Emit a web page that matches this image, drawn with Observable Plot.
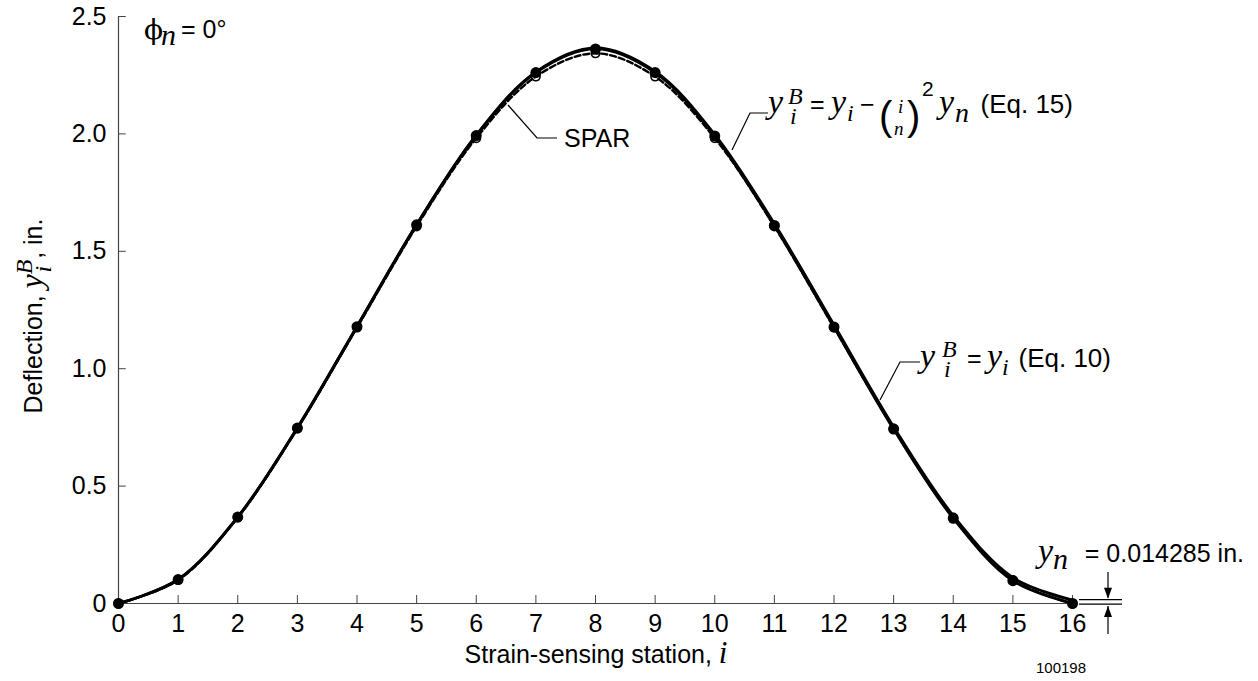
<!DOCTYPE html>
<html><head><meta charset="utf-8">
<script src="https://cdn.jsdelivr.net/npm/d3@7"></script>
<script src="https://cdn.jsdelivr.net/npm/@observablehq/plot@0.6"></script>
<style>body{margin:0;background:#fff} svg{display:block}</style>
</head><body><div id="chart"></div>
<script>
// ---- data ----
const stations = [0,1,2,3,4,5,6,7,8,9,10,11,12,13,14,15,16];
// y_i^B = y_i (Eq. 10)
const eq10 = [0, 0.102, 0.368, 0.748, 1.180, 1.614, 1.995, 2.264, 2.366, 2.266, 1.997, 1.617, 1.186, 0.752, 0.374, 0.110, 0.0143];
// y_i^B = y_i - (i/n)^2 y_n (Eq. 15)
const eq15 = [0, 0.102, 0.368, 0.747, 1.179, 1.613, 1.993, 2.261, 2.362, 2.261, 1.991, 1.610, 1.178, 0.743, 0.363, 0.097, 0];
// SPAR
const spar = [0, 0.100, 0.366, 0.745, 1.175, 1.606, 1.982, 2.244, 2.343, 2.244, 1.982, 1.606, 1.175, 0.745, 0.366, 0.100, 0];
const xTicks = [0,1,2,3,4,5,6,7,8,9,10,11,12,13,14,15,16];
const yTicks = [0, 0.5, 1, 1.5, 2, 2.5];
const yTickLabels = ["0", "0.5", "1.0", "1.5", "2.0", "2.5"];
const yn = 0.014285;

const rows = s => stations.map((st, k) => ({i: st, y: s[k]}));
const SANS = "'Liberation Sans', Arial, Helvetica, sans-serif";
const SERIF = "'Liberation Serif', 'Times New Roman', serif";
const GREEK = "'DejaVu Serif', 'Liberation Serif', serif";

const plot = Plot.plot({
  width: 1258, height: 681,
  marginLeft: 118, marginRight: 186, marginTop: 16, marginBottom: 78,
  style: {fontFamily: SANS, fontSize: "25px", background: "#fff", color: "#000"},
  x: {domain: [0, 16]},
  y: {domain: [0, 2.5]},
  marks: [
    Plot.ruleY([0], {x1: 0, x2: 16, stroke: "#444", strokeWidth: 1.2}),
    Plot.ruleX([0], {y1: 0, y2: 2.5, stroke: "#444", strokeWidth: 1.2}),
    Plot.ruleX(xTicks, {x: d => d, y1: 0, y2: 0.034, stroke: "#444", strokeWidth: 1}),
    Plot.ruleY(yTicks, {y: d => d, x1: 0, x2: 0.13, stroke: "#444", strokeWidth: 1}),
    Plot.axisX({ticks: xTicks, tickSize: 0, tickPadding: 11, tickFormat: d => String(d), label: null, fontSize: 25}),
    Plot.axisY({ticks: yTicks, tickSize: 0, tickPadding: 12, tickFormat: d => yTickLabels[yTicks.indexOf(d)], label: null, fontSize: 25}),
    Plot.line(rows(spar), {x: "i", y: "y", curve: "catmull-rom", stroke: "#000", strokeWidth: 2.4, strokeDasharray: "6,3"}),
    Plot.line(rows(eq10), {x: "i", y: "y", curve: "catmull-rom", stroke: "#000", strokeWidth: 2.9}),
    Plot.line(rows(eq15), {x: "i", y: "y", curve: "catmull-rom", stroke: "#000", strokeWidth: 2.9}),
    Plot.dot(rows(eq15), {x: "i", y: "y", r: 5.5, fill: "#000", stroke: "none"}),
    Plot.dot(rows(spar), {x: "i", y: "y", r: 4.2, fill: "none", stroke: "#000", strokeWidth: 1.6})
  ]
});
document.getElementById("chart").appendChild(plot);

// ---- annotations ----
const svg = d3.select(plot);
const sy = plot.scale("y");
function rich(parts, attrs = {}) {
  const t = svg.append("text").attr("fill", "#000").attr("text-anchor", "start");
  for (const [k, v] of Object.entries(attrs)) t.attr(k, v);
  for (const p of parts) {
    const s = t.append("tspan").text(p.t)
      .attr("font-family", p.f || (p.m ? SERIF : SANS))
      .attr("font-style", p.m ? "italic" : "normal")
      .attr("font-size", p.s || (p.m ? 34 : 25));
    for (const k of ["x", "y", "dx", "dy"]) if (p[k] != null) s.attr(k, p[k]);
  }
  return t;
}
function path(d, w = 1.2) {
  svg.append("path").attr("d", d).attr("fill", "none").attr("stroke", "#000").attr("stroke-width", w);
}

// phi_n = 0°
rich([{t: "\u03D5", f: GREEK, s: 28, x: 144, y: 39}]);
rich([{t: "n", m: true, s: 30, x: 161, y: 45}]);
rich([{t: "= 0°", s: 25, x: 181, y: 38}]);

// y-axis label (rotated)
rich([
  {t: "Deflection, ", s: 25},
  {t: "y", m: true, s: 32},
  {t: "B", m: true, s: 24, dy: -10},
  {t: "i", m: true, s: 24, dx: -13, dy: 19},
  {t: ", in.", s: 25, dx: 7, dy: -9}
], {transform: "translate(42,316) rotate(-90)", "text-anchor": "middle"});

// x-axis label
rich([
  {t: "Strain-sensing station, ", s: 25},
  {t: "i", m: true, s: 31}
], {x: 596, y: 663, "text-anchor": "middle"});

// SPAR label
path("M508,105 L537,138 L557,138");
rich([{t: "SPAR", s: 25}], {x: 564, y: 147});

// Eq. 15 label
path("M732,150 L750,113 L768,113");
rich([
  {t: "y", m: true, x: 768, y: 113},
  {t: "B", m: true, s: 24, x: 788, y: 104},
  {t: "i", m: true, s: 24, x: 790, y: 124},
  {t: "=", x: 810, y: 113},
  {t: "y", m: true, x: 831, y: 113},
  {t: "i", m: true, s: 24, x: 847, y: 121},
  {t: "\u2212", x: 860, y: 113},
  {t: "(", s: 40, x: 879, y: 130},
  {t: "i", m: true, s: 19, x: 898, y: 113},
  {t: "n", m: true, s: 19, x: 894, y: 135},
  {t: ")", s: 40, x: 907, y: 130},
  {t: "2", s: 21, x: 922, y: 96},
  {t: "y", m: true, x: 939, y: 113},
  {t: "n", m: true, s: 28, x: 955, y: 122}
]);
rich([{t: "(Eq. 15)", s: 26}], {x: 1073, y: 113, "text-anchor": "end"});

// Eq. 10 label
path("M880,400 L900,362 L920,362");
rich([
  {t: "y", m: true, x: 920, y: 367},
  {t: "B", m: true, s: 24, x: 942, y: 357},
  {t: "i", m: true, s: 24, x: 944, y: 377},
  {t: "=", x: 967, y: 367},
  {t: "y", m: true, x: 987, y: 367},
  {t: "i", m: true, s: 24, x: 1002, y: 375}
]);
rich([{t: "(Eq. 10)", s: 26}], {x: 1111, y: 367, "text-anchor": "end"});

// y_n annotation
const y0 = sy.apply(0), y1 = sy.apply(yn);
path(`M1079,${y1} L1122,${y1}`, 1.2);
path(`M1079,${y0 + 1.2} L1122,${y0 + 1.2}`, 1.2);
path(`M1108,572 L1108,${y1 - 2}`, 1.2);
path(`M1108,634 L1108,${y0 + 3}`, 1.2);
svg.append("path").attr("d", `M1104,${y1 - 12} L1112,${y1 - 12} L1108,${y1 - 1} Z`).attr("fill", "#000");
svg.append("path").attr("d", `M1104,${y0 + 14} L1112,${y0 + 14} L1108,${y0 + 3} Z`).attr("fill", "#000");
rich([{t: "y", m: true, x: 1038, y: 562}]);
rich([{t: "n", m: true, s: 30, x: 1053, y: 569}]);
rich([{t: "= 0.014285 in.", s: 25}], {x: 1244, y: 562, "text-anchor": "end"});

// figure number
rich([{t: "100198", s: 15}], {x: 1036, y: 673});
</script>
</body></html>
